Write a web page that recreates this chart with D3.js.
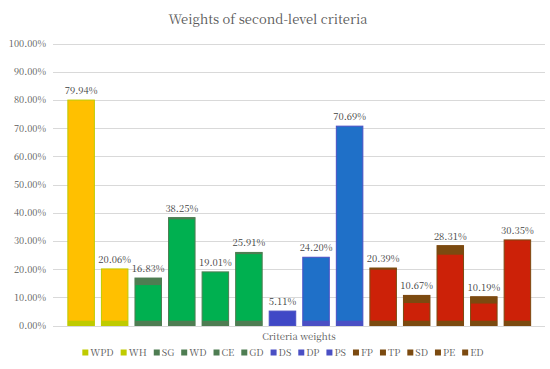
<!DOCTYPE html>
<html>
<head>
<meta charset="utf-8">
<script src="https://cdn.jsdelivr.net/npm/d3@7"></script>
<style>
  body { margin: 0; background: #fff; }
</style>
</head>
<body>
<div id="chart"></div>
<script>
// Weights of second-level criteria - stacked look column chart

const criteria = ['WPD', 'WH', 'SG', 'WD', 'CE', 'GD', 'DS', 'DP', 'PS', 'FP', 'TP', 'SD', 'PE', 'ED'];
const weights = [79.94, 20.06, 16.83, 38.25, 19.01, 25.91, 5.11, 24.20, 70.69, 20.39, 10.67, 28.31, 10.19, 30.35];
// darker base strip and top cap segments visible inside the bars (in %)
const baseSegment = [1.7, 1.7, 1.7, 1.7, 1.7, 1.7, 0, 1.7, 1.7, 1.7, 1.7, 1.7, 1.7, 1.7];
const capSegment = [0, 0, 2.5, 0.6, 0, 0.6, 0, 0, 0, 0.6, 2.7, 3.2, 2.4, 0];
const yTicks = [0, 10, 20, 30, 40, 50, 60, 70, 80, 90, 100];

const fillColors = ['#FFC000', '#FFC000', '#00B050', '#00B050', '#00B050', '#00B050', '#3F48C6',
    '#1F70C8', '#1F70C8', '#CC2108', '#CC2108', '#CC2108', '#CC2108', '#CC2108'];
const edgeColors = ['#BFCB00', '#BFCB00', '#4E7D52', '#4E7D52', '#4E7D52', '#4E7D52', '#4A4FC4',
    '#4A4FC4', '#4A4FC4', '#7B4A10', '#7B4A10', '#7B4A10', '#7B4A10', '#7B4A10'];

// Liberation Serif falls back to a sans face below 18px here, so use Noto Serif CJK for small text
const serif = '"Noto Serif CJK SC", "Liberation Serif", Times';

function createChart() {
    const width = 550, height = 369;
    const svg = d3.select('#chart').append('svg')
        .attr('width', width)
        .attr('height', height);

    const plot = {left: 53, right: 545, top: 43.5, bottom: 325.5};

    const x = d3.scaleBand()
        .domain(criteria)
        .range([64.5, 534])
        .paddingInner(0.21)
        .paddingOuter(0.1);

    const y = d3.scaleLinear()
        .domain([0, 100])
        .range([plot.bottom, plot.top]);

    // Title
    svg.append('text')
        .attr('x', 268)
        .attr('y', 24)
        .attr('text-anchor', 'middle')
        .style('font-family', serif)
        .style('font-size', '13px')
        .style('fill', '#595959')
        .text('Weights of second-level criteria');

    // Gridlines
    svg.append('g')
        .selectAll('line')
        .data(yTicks)
        .enter()
        .append('line')
        .attr('x1', plot.left)
        .attr('x2', plot.right)
        .attr('y1', d => Math.round(y(d)) + 0.5)
        .attr('y2', d => Math.round(y(d)) + 0.5)
        .style('stroke', '#D9D9D9')
        .style('stroke-width', 1);

    // Y axis labels
    const yAxis = svg.append('g')
        .attr('transform', `translate(${plot.left - 7},0)`)
        .call(d3.axisLeft(y).tickValues(yTicks).tickSize(0).tickFormat(d => d.toFixed(2) + '%'));
    yAxis.select('.domain').remove();
    yAxis.selectAll('text')
        .attr('x', 0)
        .style('font-family', serif)
        .style('font-size', '9.3px')
        .style('fill', '#595959');

    const bars = svg.append('g')
        .selectAll('g')
        .data(criteria)
        .enter()
        .append('g');

    // main bar
    bars.append('rect')
        .attr('x', d => x(d))
        .attr('y', (d, i) => y(weights[i]))
        .attr('width', x.bandwidth())
        .attr('height', (d, i) => y(0) - y(weights[i]))
        .style('fill', (d, i) => fillColors[i])
        .style('stroke', (d, i) => edgeColors[i])
        .style('stroke-width', 1);

    // base strip
    bars.append('rect')
        .attr('x', d => x(d))
        .attr('y', (d, i) => y(baseSegment[i]))
        .attr('width', x.bandwidth())
        .attr('height', (d, i) => y(0) - y(baseSegment[i]))
        .style('fill', (d, i) => edgeColors[i]);

    // top cap
    bars.append('rect')
        .attr('x', d => x(d))
        .attr('y', (d, i) => y(weights[i]))
        .attr('width', x.bandwidth())
        .attr('height', (d, i) => y(weights[i] - capSegment[i]) - y(weights[i]))
        .style('fill', (d, i) => edgeColors[i]);

    // value labels
    bars.append('text')
        .attr('x', d => x(d) + x.bandwidth() / 2)
        .attr('y', (d, i) => y(weights[i]) - 6)
        .attr('text-anchor', 'middle')
        .style('font-family', serif)
        .style('font-size', '9.5px')
        .style('fill', '#404040')
        .text((d, i) => weights[i].toFixed(2) + '%');

    // X axis title
    svg.append('text')
        .attr('x', (plot.left + plot.right) / 2)
        .attr('y', 340)
        .attr('text-anchor', 'middle')
        .style('font-family', serif)
        .style('font-size', '9.5px')
        .style('fill', '#595959')
        .text('Criteria weights');

    // Legend
    const legend = svg.append('g');
    const items = legend.selectAll('g')
        .data(criteria)
        .enter()
        .append('g');
    items.append('rect')
        .attr('width', 6)
        .attr('height', 6)
        .attr('y', -6.5)
        .style('fill', (d, i) => edgeColors[i]);
    items.append('text')
        .attr('x', 8)
        .attr('y', 0)
        .style('font-family', serif)
        .style('font-size', '9.5px')
        .style('fill', '#595959')
        .text(d => d);

    let offset = 0;
    items.each(function() {
        const g = d3.select(this);
        g.attr('transform', `translate(${offset},0)`);
        offset += 8 + g.select('text').node().getComputedTextLength() + 7;
    });
    offset -= 7;
    legend.attr('transform', `translate(${283 - offset / 2},356)`);
}

createChart();
</script>
</body>
</html>
